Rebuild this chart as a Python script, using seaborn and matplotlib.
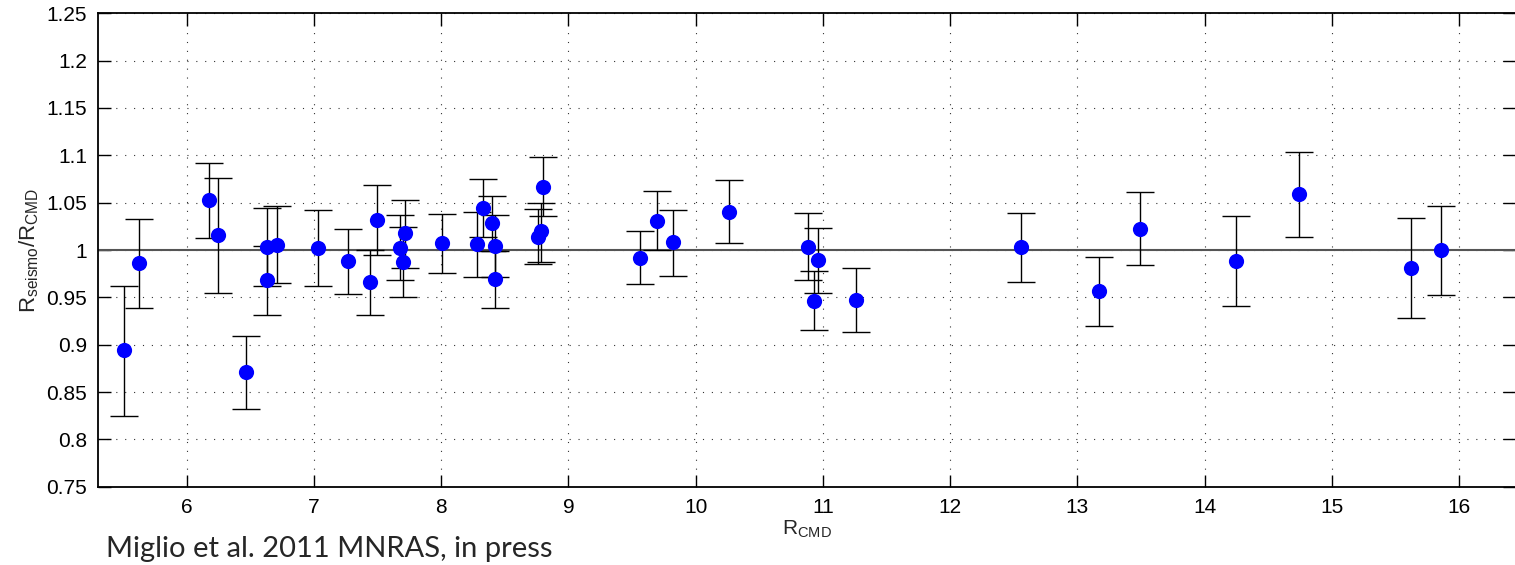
import numpy as np
import pandas as pd
import matplotlib
matplotlib.use("Agg")
import matplotlib.pyplot as plt
import seaborn as sns

# ---- data ----
r_cmd = [5.51, 5.626, 6.178, 6.249, 6.463, 6.628, 6.628, 6.707, 7.029, 7.27,
         7.437, 7.492, 7.68, 7.717, 7.699, 8.008, 8.285, 8.327, 8.40, 8.424,
         8.424, 8.804, 8.788, 8.764, 9.56, 9.694, 9.819, 10.264, 10.882, 10.961,
         10.929, 11.262, 12.56, 13.17, 13.49, 14.25, 14.74, 15.62, 15.86]
ratio = [0.894, 0.986, 1.053, 1.0155, 0.871, 1.003, 0.968, 1.005, 1.002, 0.988,
         0.966, 1.032, 1.002, 1.018, 0.987, 1.007, 1.006, 1.044, 1.028, 1.004,
         0.969, 1.067, 1.020, 1.014, 0.992, 1.031, 1.008, 1.040, 1.0035, 0.989,
         0.9465, 0.9475, 1.003, 0.957, 1.0226, 0.988, 1.059, 0.981, 1.000]
ratio_low = [0.825, 0.939, 1.013, 0.955, 0.832, 0.962, 0.931, 0.965, 0.962, 0.954,
             0.931, 0.995, 0.968, 0.981, 0.950, 0.976, 0.972, 1.014, 0.999, 0.972,
             0.939, 1.036, 0.987, 0.985, 0.964, 1.000, 0.973, 1.007, 0.968, 0.955,
             0.915, 0.913, 0.966, 0.920, 0.984, 0.941, 1.014, 0.928, 0.952]
ratio_high = [0.962, 1.033, 1.092, 1.076, 0.9095, 1.044, 1.0046, 1.046, 1.042, 1.022,
              1.000, 1.069, 1.037, 1.053, 1.024, 1.038, 1.040, 1.075, 1.057, 1.037,
              0.999, 1.098, 1.050, 1.043, 1.020, 1.062, 1.042, 1.074, 1.039, 1.023,
              0.978, 0.981, 1.039, 0.993, 1.061, 1.036, 1.104, 1.034, 1.047]
reference_ratio = 1.0
x_ticks = [6, 7, 8, 9, 10, 11, 12, 13, 14, 15, 16]
y_ticks = [0.75, 0.8, 0.85, 0.9, 0.95, 1.0, 1.05, 1.1, 1.15, 1.2, 1.25]
y_tick_labels = ["0.75", "0.8", "0.85", "0.9", "0.95", "1", "1.05", "1.1", "1.15", "1.2", "1.25"]
x_label = r"R$_{\mathregular{CMD}}$"
y_label = r"R$_{\mathregular{seismo}}$/R$_{\mathregular{CMD}}$"
credit = "Miglio et al. 2011 MNRAS, in press"

df = pd.DataFrame({"r_cmd": r_cmd, "ratio": ratio,
                   "low": ratio_low, "high": ratio_high})

# ---- style ----
sns.set_style("white")
plt.rcParams["font.family"] = ["Liberation Sans", "DejaVu Sans"]
plt.rcParams["mathtext.fontset"] = "custom"
plt.rcParams["mathtext.rm"] = "Liberation Sans"

fig = plt.figure(figsize=(15.15, 5.65), dpi=100)
ax = fig.add_axes([98 / 1515, 1 - 486.7 / 565, 1 - 98 / 1515, (486.7 - 13.3) / 565])

yerr = np.vstack([df["ratio"] - df["low"], df["high"] - df["ratio"]])
ax.errorbar(df["r_cmd"], df["ratio"], yerr=yerr, fmt="none", ecolor="black",
            elinewidth=1.0, capsize=10, capthick=1.0, zorder=3)
ax.axhline(reference_ratio, color="#555555", lw=1.5, zorder=2)
sns.scatterplot(data=df, x="r_cmd", y="ratio", ax=ax, color="#0000ff",
                s=120, edgecolor="#0000ff", linewidth=0, zorder=4, legend=False)

ax.set_xlim(5.303, 16.44)
ax.set_ylim(0.75, 1.25)
ax.set_xticks(x_ticks)
ax.set_xticklabels([str(t) for t in x_ticks])
ax.set_yticks(y_ticks)
ax.set_yticklabels(y_tick_labels)
ax.tick_params(direction="in", length=9, width=1.0, labelsize=15, colors="black",
               top=True, right=True, bottom=True, left=True, pad=8)
ax.grid(True, color="black", linestyle=(0, (1, 7)), linewidth=0.8, alpha=0.8)
ax.set_axisbelow(True)
for side in ["left", "bottom", "top"]:
    ax.spines[side].set_color("black")
    ax.spines[side].set_linewidth(1.3)
ax.spines["right"].set_visible(False)

ax.set_xlabel(x_label, fontsize=15, labelpad=1)
ax.set_ylabel(y_label, fontsize=16, labelpad=4)

fig.text(106 / 1515, 1 - 557 / 565, credit, fontsize=21, family=["Lato", "DejaVu Sans"],
         ha="left", va="baseline")

fig.savefig("out.png", dpi=100)
